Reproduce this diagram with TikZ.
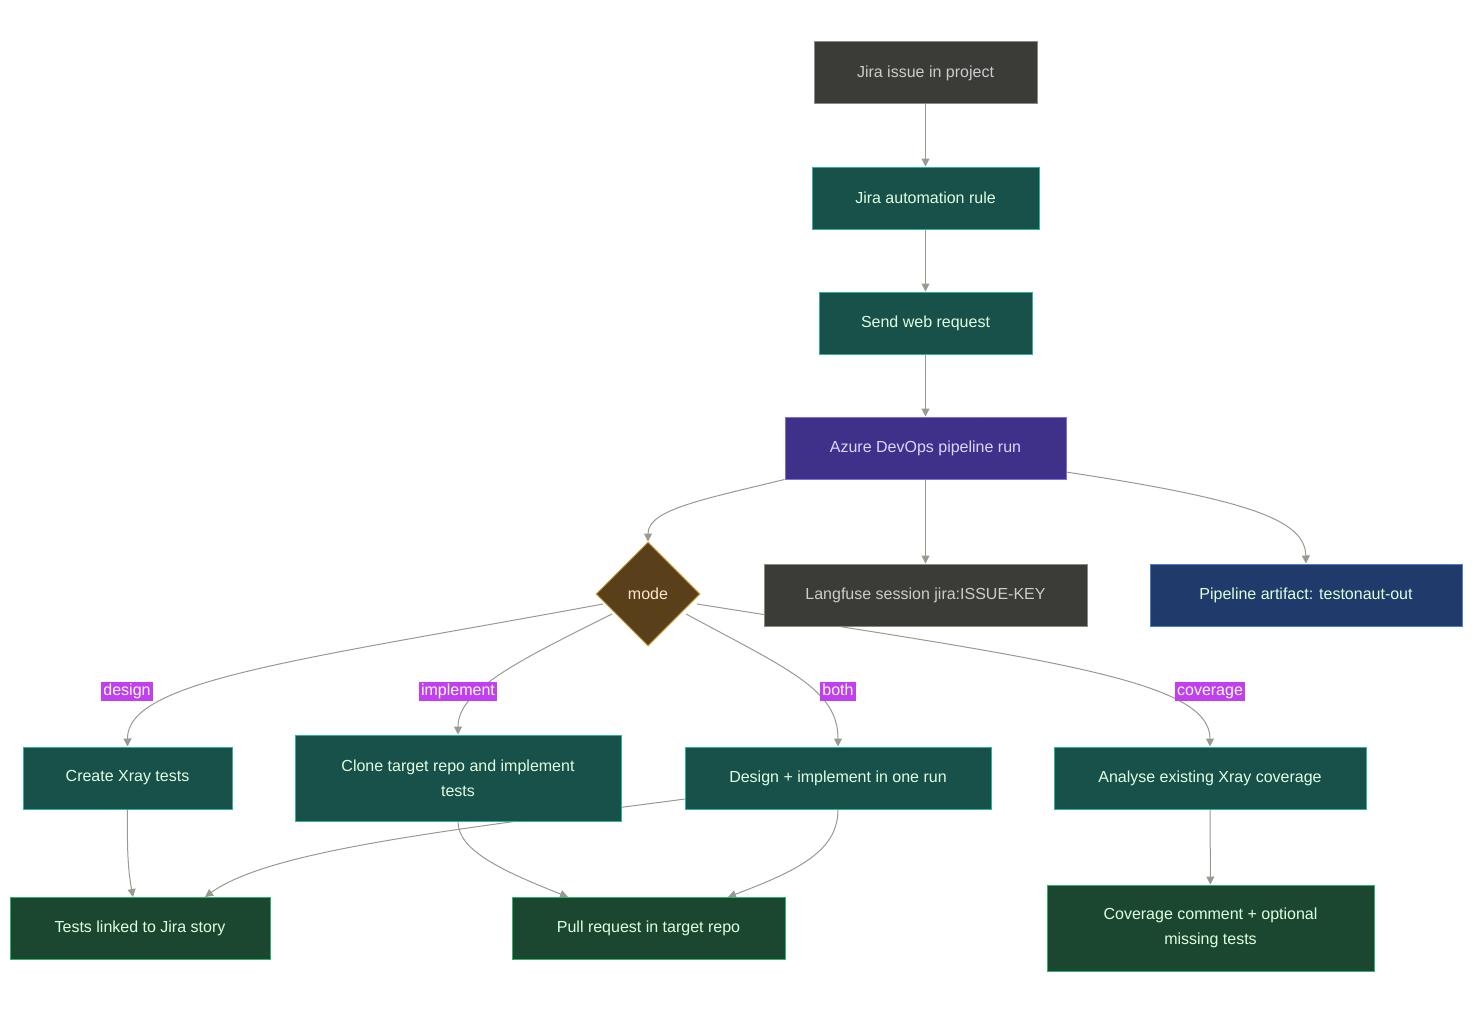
\documentclass[tikz,border=0pt]{standalone}
\usepackage{fontspec}
\setmainfont{Liberation Sans}
\usetikzlibrary{shapes.geometric,arrows.meta,backgrounds}
\definecolor{gfill}{HTML}{3B3B37}\definecolor{gline}{HTML}{8A8A80}
\definecolor{tfill}{HTML}{18504A}\definecolor{tline}{HTML}{2FB39A}
\definecolor{pfill}{HTML}{3F318A}\definecolor{pline}{HTML}{7E6CE0}
\definecolor{bfill}{HTML}{1F3A6B}\definecolor{bline}{HTML}{4A7FD0}
\definecolor{dfill}{HTML}{1B4730}\definecolor{dline}{HTML}{2FB36A}
\definecolor{mfill}{HTML}{5A401A}\definecolor{mline}{HTML}{C9A040}
\definecolor{lab}{HTML}{C23FEF}\definecolor{edge}{HTML}{999990}
\begin{document}
\begin{tikzpicture}[x=1pt,y=-1pt,
 every node/.style={font=\fontsize{16}{25}\selectfont},
 box/.style={rectangle,draw,line width=1pt,inner sep=0pt,text=white!88!green,align=center},
 gbox/.style={box,fill=gfill,draw=gline,text=white!80!black},
 tbox/.style={box,fill=tfill,draw=tline},
 dbox/.style={box,fill=dfill,draw=dline},
 lbl/.style={fill=lab,text=white,inner xsep=2pt,inner ysep=1.5pt,text height=12pt,text depth=4pt},
 e/.style={draw=edge,line width=1pt,-{Triangle[length=8pt,width=8pt]}}]
\useasboundingbox (0,0) rectangle (1472,1014);
\node[gbox,minimum width=223,minimum height=62] (jira) at (925.5,73) {Jira issue in project};
\node[tbox,minimum width=227,minimum height=62] (rule) at (925.5,198) {Jira automation rule};
\node[tbox,minimum width=213,minimum height=62] (web) at (925.5,323) {Send web request};
\node[box,fill=pfill,draw=pline,text=white!85!blue,minimum width=281,minimum height=62] (az) at (925.5,448) {Azure DevOps pipeline run};
\node[diamond,draw=mline,fill=mfill,line width=1pt,minimum width=104,minimum height=104,inner sep=0pt,text=white!80!orange] (mode) at (648,594) {mode};
\node[gbox,minimum width=323,minimum height=62] (lf) at (925.5,595) {Langfuse session jira:ISSUE-KEY};
\node[box,fill=bfill,draw=bline,minimum width=312,minimum height=62] (pa) at (1306,595) {Pipeline artifact: testonaut-out};
\node[tbox,minimum width=209,minimum height=62] (cx) at (127.5,778) {Create Xray tests};
\node[tbox,minimum width=326,minimum height=86] (cl) at (458,778) {Clone target repo and implement\\tests};
\node[tbox,minimum width=306,minimum height=62] (di) at (838,778) {Design + implement in one run};
\node[tbox,minimum width=312,minimum height=62] (an) at (1210,778) {Analyse existing Xray coverage};
\node[dbox,minimum width=260,minimum height=62] (tl) at (140,928) {Tests linked to Jira story};
\node[dbox,minimum width=273,minimum height=62] (pr) at (648.5,928) {Pull request in target repo};
\node[dbox,minimum width=327,minimum height=86] (cc) at (1210.5,928) {Coverage comment + optional\\missing tests};
\begin{scope}[on background layer]
\draw[e] (jira) -- (rule);
\draw[e] (rule) -- (web);
\draw[e] (web) -- (az);
\draw[e] (az.south west) .. controls (700,500) and (648,510) .. (mode.north);
\draw[e] (az) -- (lf);
\draw[e] (1066,472) .. controls (1250,500) and (1305,520) .. (pa.north);
\draw[e] (603,604) .. controls (300,660) and (127,680) .. (cx.north);
\draw[e] (612,614) .. controls (520,660) and (458,690) .. (cl.north);
\draw[e] (686,614) .. controls (790,670) and (838,690) .. (di.north);
\draw[e] (697,604) .. controls (1050,660) and (1210,680) .. (an.north);
\draw[e] (cx.south) .. controls (127,850) and (128,870) .. (133,897);
\draw[e] (cl.south) .. controls (458,850) and (500,870) .. (568,897);
\draw[e] (685,799) .. controls (450,830) and (270,850) .. (205,897);
\draw[e] (di.south) .. controls (838,850) and (800,870) .. (728,897);
\draw[e] (an) -- (cc);
\end{scope}
\node[lbl] at (127,691) {design};
\node[lbl] at (458,691) {implement};
\node[lbl] at (838,691) {both};
\node[lbl] at (1210,691) {coverage};
\end{tikzpicture}
\end{document}
